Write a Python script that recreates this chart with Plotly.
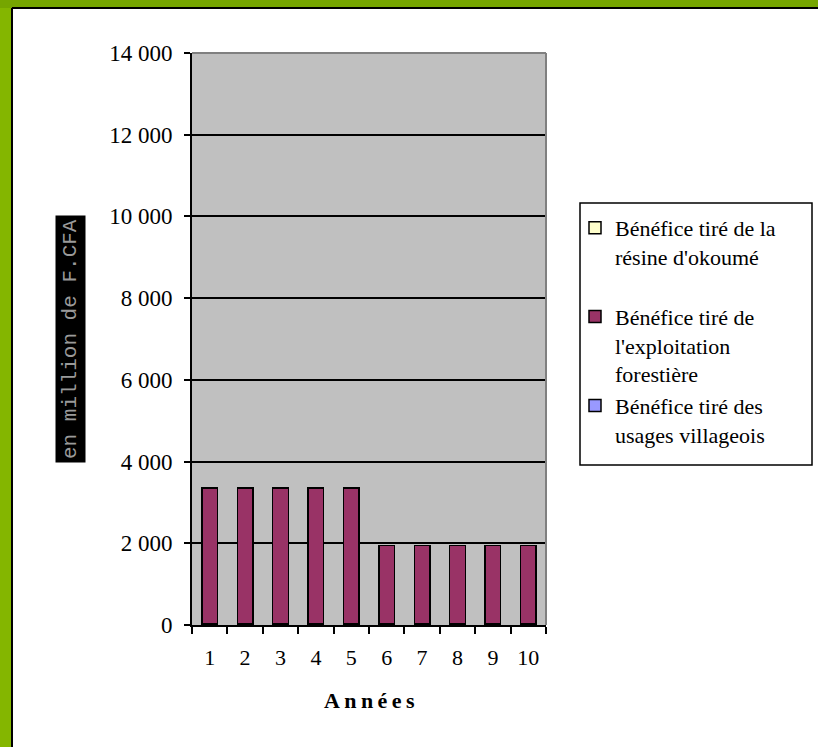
import plotly.graph_objects as go

# ---- data ----
annees = ["1", "2", "3", "4", "5", "6", "7", "8", "9", "10"]
usages_villageois = [40, 40, 40, 40, 40, 40, 40, 40, 40, 40]
exploitation_forestiere = [3310, 3310, 3310, 3310, 3310, 1910, 1910, 1910, 1910, 1910]
resine_okoume = [0, 0, 0, 0, 0, 0, 0, 0, 0, 0]
y_ticks = [0, 2000, 4000, 6000, 8000, 10000, 12000, 14000]
y_tick_labels = ["0", "2 000", "4 000", "6 000", "8 000", "10 000", "12 000", "14 000"]

W, H = 818, 747
L, R, T, B = 192, 546, 53, 625


def px_x(p):
    return (p - L) / (R - L)


def px_y(p):
    return (B - p) / (B - T)


SERIF = "Liberation Serif, Times New Roman, serif"

fig = go.Figure()
fig.add_trace(go.Bar(
    x=annees, y=usages_villageois,
    name="Bénéfice tiré des<br>usages villageois",
    marker=dict(color="#9999FF", line=dict(color="black", width=1.5)),
))
fig.add_trace(go.Bar(
    x=annees, y=exploitation_forestiere,
    name="Bénéfice tiré de<br>l'exploitation<br>forestière",
    marker=dict(color="#993366", line=dict(color="black", width=1.5)),
))
fig.add_trace(go.Bar(
    x=annees, y=resine_okoume,
    name="Bénéfice tiré de la<br>résine d'okoumé<br> ",
    marker=dict(color="#FFFFCC", line=dict(color="black", width=1.5)),
))

shapes = [
    # green frame strips
    dict(type="rect", xref="paper", yref="paper", x0=px_x(0), x1=px_x(12), y0=px_y(H + 10), y1=px_y(0),
         fillcolor="#84b600", line=dict(width=0), layer="below"),
    dict(type="rect", xref="paper", yref="paper", x0=px_x(0), x1=px_x(W + 10), y0=px_y(8), y1=px_y(0),
         fillcolor="#76a600", line=dict(width=0), layer="below"),
    # black edge of the white panel
    dict(type="line", xref="paper", yref="paper", x0=px_x(12), x1=px_x(12), y0=px_y(H + 5), y1=px_y(8),
         line=dict(color="black", width=2)),
    dict(type="line", xref="paper", yref="paper", x0=px_x(12), x1=px_x(W + 5), y0=px_y(8), y1=px_y(8),
         line=dict(color="black", width=2)),
    # plot frame top/right (grey)
    dict(type="line", xref="paper", yref="paper", x0=0, x1=1, y0=1, y1=1,
         line=dict(color="#808080", width=2)),
    dict(type="line", xref="paper", yref="paper", x0=1, x1=1, y0=0, y1=1,
         line=dict(color="#808080", width=2)),
    # legend box
    dict(type="rect", xref="paper", yref="paper", x0=px_x(580), x1=px_x(812), y0=px_y(465), y1=px_y(203),
         fillcolor="rgba(0,0,0,0)", line=dict(color="black", width=1.5)),
]

annotations = [
    dict(text="A\u2009n\u2009n\u2009é\u2009e\u2009s", xref="paper", yref="paper", x=0.5, y=px_y(700),
         xanchor="center", yanchor="middle", showarrow=False,
         font=dict(family=SERIF, size=22, color="black", weight="bold")),
    dict(text="en million de F.CFA", xref="paper", yref="paper", x=px_x(70), y=px_y(339),
         xanchor="center", yanchor="middle", showarrow=False, textangle=-90,
         bgcolor="black", borderpad=3,
         font=dict(family="Liberation Mono, DejaVu Sans Mono, monospace", size=21, color="#9a9a9a")),
]

fig.update_layout(
    width=W, height=H,
    margin=dict(l=L, r=W - R, t=T, b=H - B),
    paper_bgcolor="white",
    plot_bgcolor="#C0C0C0",
    barmode="stack",
    bargap=0.56,
    showlegend=True,
    legend=dict(
        x=px_x(575), y=px_y(207), xanchor="left", yanchor="top",
        traceorder="reversed", valign="top",
        bgcolor="rgba(0,0,0,0)", borderwidth=0,
        font=dict(family=SERIF, size=22, color="black"),
        itemclick=False,
    ),
    shapes=shapes,
    annotations=annotations,
    xaxis=dict(
        type="category", tickson="boundaries", ticks="outside", ticklen=7, tickwidth=2, tickcolor="black",
        showline=True, linecolor="black", linewidth=2, showgrid=False,
        tickfont=dict(family=SERIF, size=22, color="black"), ticklabelstandoff=12,
        range=[-0.5, 9.5],
    ),
    yaxis=dict(
        range=[0, 14000], tickmode="array", tickvals=y_ticks, ticktext=y_tick_labels,
        ticks="outside", ticklen=6, tickwidth=2, tickcolor="black",
        showline=True, linecolor="black", linewidth=2,
        showgrid=True, gridcolor="black", gridwidth=2,
        tickfont=dict(family=SERIF, size=23, color="black"), ticklabelstandoff=7,
        zeroline=False,
    ),
)

fig.write_html(
    "out.html",
    config={"displayModeBar": False},
    post_script="document.body.style.margin='0';document.body.style.overflow='hidden';",
)
